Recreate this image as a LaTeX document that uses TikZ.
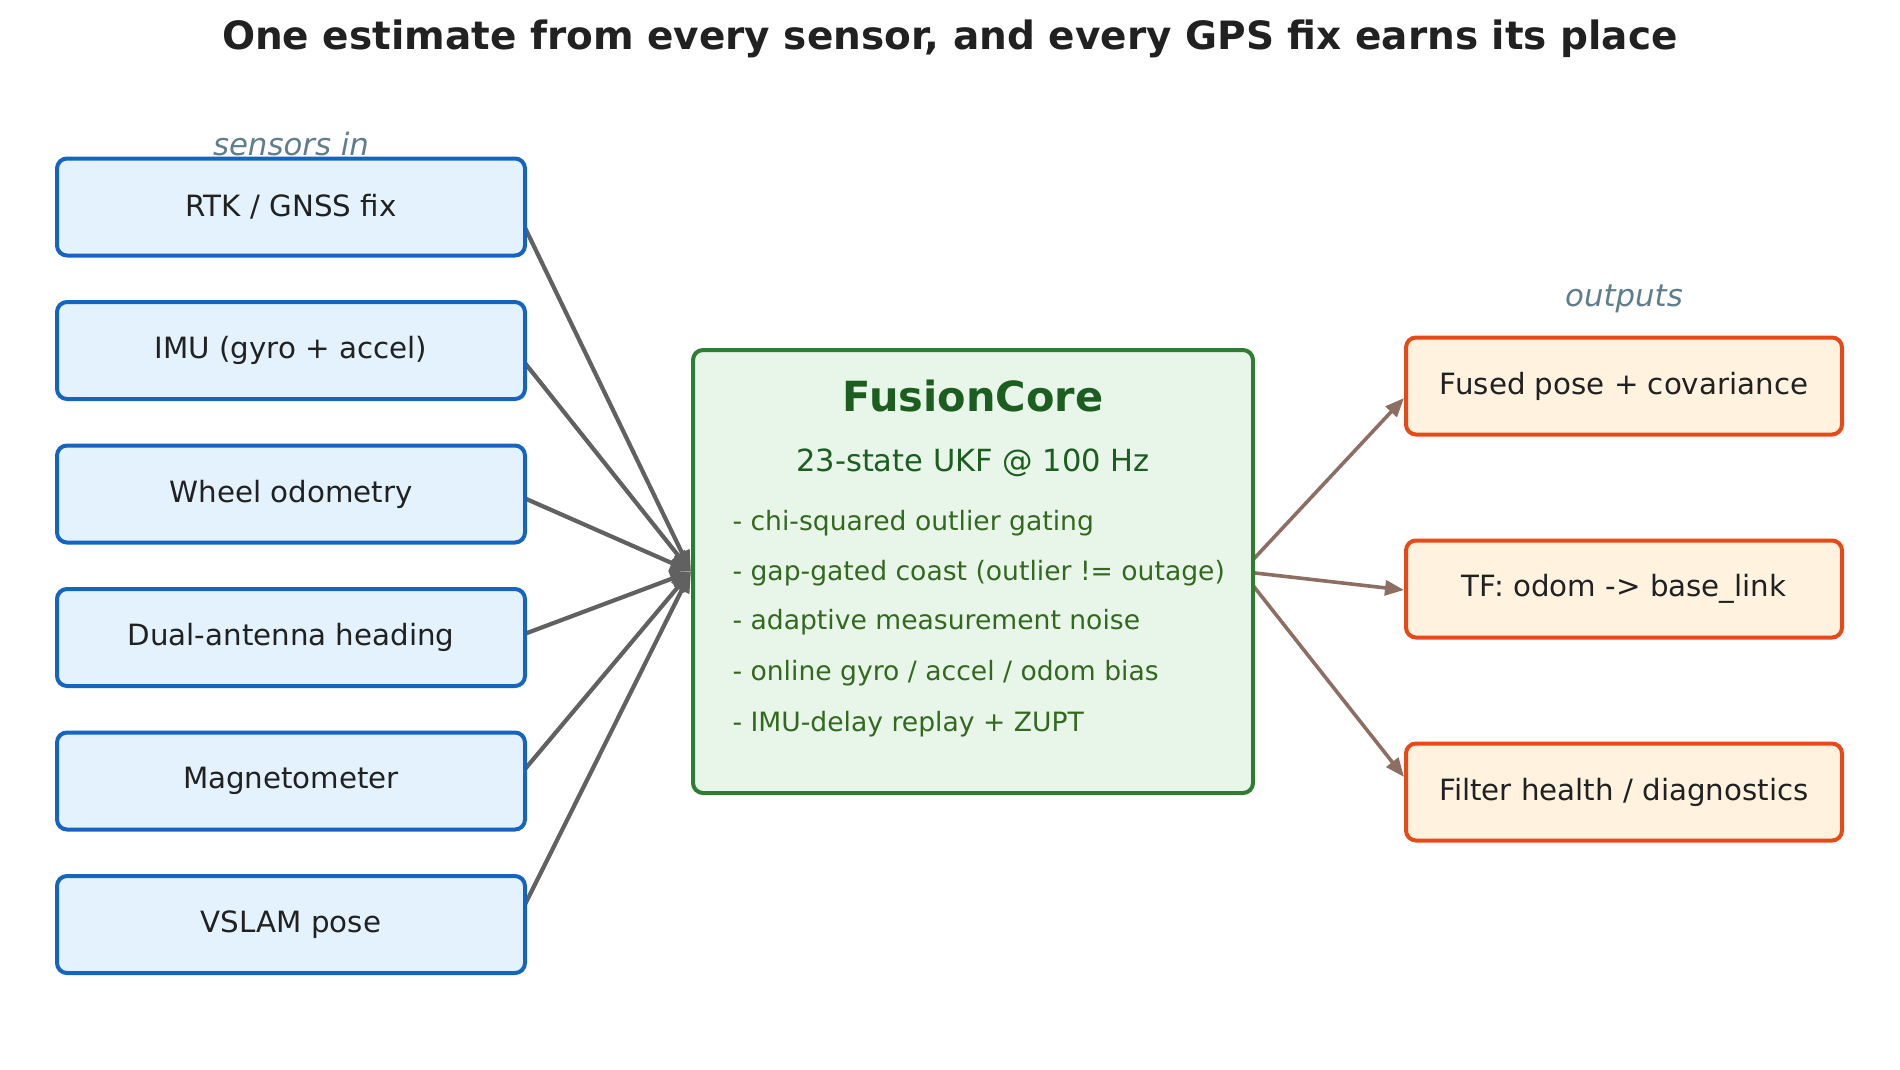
\documentclass[tikz,border=0pt]{standalone}
\usepackage{fontspec}
\setmainfont{DejaVu Sans}
\usetikzlibrary{arrows.meta,positioning,backgrounds}
\definecolor{senseline}{HTML}{1565C0}
\definecolor{sensefill}{HTML}{E3F2FD}
\definecolor{coreline}{HTML}{2E7D32}
\definecolor{corefill}{HTML}{E8F5E9}
\definecolor{coredark}{HTML}{1B5E20}
\definecolor{corebullet}{HTML}{33691E}
\definecolor{outline}{HTML}{E64A19}
\definecolor{outfill}{HTML}{FFF3E0}
\definecolor{inkgray}{HTML}{212121}
\definecolor{arrgray}{HTML}{616161}
\definecolor{arrbrown}{HTML}{8D6E63}
\definecolor{labelgray}{HTML}{607D8B}

\begin{document}
\begin{tikzpicture}[x=1pt, y=-1pt, node distance=42.5pt,
  sensor/.style={draw=senseline, fill=sensefill, line width=4pt, rounded corners=10pt,
    minimum width=468pt, minimum height=97pt, text=inkgray,
    font=\fontsize{29.3}{35}\selectfont},
  outbox/.style={draw=outline, fill=outfill, line width=4pt, rounded corners=10pt,
    minimum width=436pt, minimum height=97pt, text=inkgray,
    font=\fontsize{29.3}{35}\selectfont},
  core/.style={draw=coreline, fill=corefill, line width=4pt, rounded corners=10pt,
    minimum width=560pt, minimum height=443pt},
  bullet/.style={anchor=west, text=corebullet, font=\fontsize{26.6}{32}\selectfont},
  side/.style={text=labelgray, font=\fontsize{30.8}{36}\selectfont\itshape},
  inarr/.style={-{Triangle[length=21pt,width=16pt]}, draw=arrgray, fill=arrgray, line width=4.2pt},
  outarr/.style={-{Triangle[length=19pt,width=15pt]}, draw=arrbrown, fill=arrbrown, line width=3.6pt}]
  \useasboundingbox (0,0) rectangle (1900,1069);

  \node[text=inkgray, font=\fontsize{39}{46}\selectfont\bfseries] (title) at (950,39)
    {One estimate from every sensor, and every GPS fix earns its place};

  % sensors in
  \node[side] (inlabel) at (291,144) {sensors in};
  \node[sensor] (rtk) at (291,207) {RTK / GNSS fix};
  \node[sensor, below=of rtk] (imu) {IMU (gyro + accel)};
  \node[sensor, below=of imu] (wheel) {Wheel odometry};
  \node[sensor, below=of wheel] (dual) {Dual-antenna heading};
  \node[sensor, below=of dual] (mag) {Magnetometer};
  \node[sensor, below=of mag] (vslam) {VSLAM pose};

  % filter
  \node[core] (core) at (973,571.5) {};
  \node[text=coredark, font=\fontsize{41.5}{50}\selectfont\bfseries] (coretitle)
    at ([yshift=-48pt]core.north) {FusionCore};
  \node[text=coredark, font=\fontsize{30.5}{36}\selectfont] (coresub)
    at ([yshift=-115pt]core.north) {23-state UKF @ 100 Hz};
  \node[bullet] (b1) at (729,523.5) {- chi-squared outlier gating};
  \node[bullet] (b2) at (729,573.5) {- gap-gated coast (outlier != outage)};
  \node[bullet] (b3) at (729,622.5) {- adaptive measurement noise};
  \node[bullet] (b4) at (729,673.5) {- online gyro / accel / odom bias};
  \node[bullet] (b5) at (729,724.5) {- IMU-delay replay + ZUPT};

  % outputs
  \node[side] (outlabel) at (1624,299) {outputs};
  \node[outbox] (fused) at (1624,386) {Fused pose + covariance};
  \node[outbox] (tf) at (1624,589) {TF: odom -> base\_link};
  \node[outbox] (health) at (1624,792) {Filter health / diagnostics};

  \begin{scope}[on background layer]
    \draw[inarr] ([xshift=-12pt]rtk.east) -- (core.west);
    \draw[inarr] ([xshift=-12pt]imu.east) -- (core.west);
    \draw[inarr] ([xshift=-12pt]wheel.east) -- (core.west);
    \draw[inarr] ([xshift=-12pt]dual.east) -- (core.west);
    \draw[inarr] ([xshift=-12pt]mag.east) -- (core.west);
    \draw[inarr] ([xshift=-12pt]vslam.east) -- (core.west);
    \draw[outarr] ([xshift=-13pt]core.east) -- ([yshift=-12pt]fused.west);
    \draw[outarr] ([xshift=-13pt]core.east) -- ([yshift=-1pt]tf.west);
    \draw[outarr] ([xshift=-13pt]core.east) -- ([yshift=15pt]health.west);
  \end{scope}
\end{tikzpicture}
\end{document}
